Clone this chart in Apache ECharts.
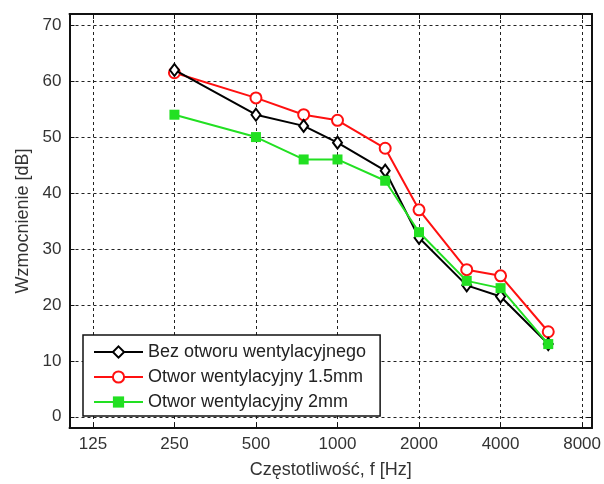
<!DOCTYPE html>
<html>
<head>
    <meta charset="UTF-8">
    <title>Wzmocnienie</title>
    <style>
        body, html {
            margin: 0;
            width: 100%;
            height: 100%;
            background: #fff;
        }
        #container {
            width: 604px;
            height: 484px;
        }
    </style>
</head>
<body>
<div id="container"></div>

<script src="https://cdn.jsdelivr.net/npm/echarts@6/dist/echarts.min.js"></script>
<script>
    // dane
    var freqs = [250, 500, 750, 1000, 1500, 2000, 3000, 4000, 6000];
    var bezOtworu = [62, 54, 52, 49, 44, 32, 23.5, 21.5, 13];
    var otwor15 = [61.5, 57, 54, 53, 48, 37, 26.3, 25.2, 15.2];
    var otwor2 = [54, 50, 46, 46, 42.2, 33, 24.3, 23, 13];
    var xTickLabels = ['125', '250', '500', '1000', '2000', '4000', '8000'];
    var legendNames = ['Bez otworu wentylacyjnego', 'Otwor wentylacyjny 1.5mm', 'Otwor wentylacyjny 2mm'];

    var FONT = 'Liberation Sans, Arial, sans-serif';

    // os logarytmiczna: oktawy od 125 Hz
    function toOct(f) {
        return Math.log(f / 125) / Math.LN2;
    }

    function pairs(vals) {
        var out = [];
        for (var i = 0; i < freqs.length; i++) {
            out.push([toOct(freqs[i]), vals[i]]);
        }
        return out;
    }

    var xMin = -0.287, xMax = 6.122;
    var yMin = -2, yMax = 72;

    var chart = echarts.init(document.getElementById('container'));

    var gridLine = {show: true, lineStyle: {color: '#222', width: 1, type: [3, 3]}};
    var border = {show: true, onZero: false, lineStyle: {color: '#111', width: 2}};

    var option = {
        animation: false,
        backgroundColor: '#fff',
        grid: {left: 69.5, right: 9, top: 14, bottom: 52},
        legend: {
            orient: 'vertical',
            left: 83,
            top: 335,
            data: legendNames,
            backgroundColor: '#fff',
            borderColor: '#111',
            borderWidth: 1.5,
            borderRadius: 0,
            padding: [8, 14, 5, 10],
            itemWidth: 49,
            itemHeight: 14,
            itemGap: 7,
            textStyle: {fontFamily: FONT, fontSize: 18, color: '#222'}
        },
        xAxis: [{
            type: 'value',
            min: xMin,
            max: xMax,
            minInterval: 1,
            maxInterval: 1,
            position: 'bottom',
            name: 'Częstotliwość, f [Hz]',
            nameLocation: 'middle',
            nameGap: 33,
            nameTextStyle: {fontFamily: FONT, fontSize: 18, color: '#333'},
            axisLine: border,
            axisTick: {show: true, inside: true, length: 5, lineStyle: {color: '#111'}},
            axisLabel: {
                showMinLabel: false,
                showMaxLabel: false,
                margin: 8,
                fontFamily: FONT,
                fontSize: 17,
                color: '#333',
                formatter: function (v) {
                    var i = Math.round(v);
                    return Math.abs(v - i) < 1e-6 ? (xTickLabels[i] || '') : '';
                }
            },
            splitLine: gridLine
        }, {
            type: 'value',
            min: xMin,
            max: xMax,
            minInterval: 1,
            maxInterval: 1,
            position: 'top',
            axisLine: border,
            axisTick: {show: true, inside: true, length: 5, lineStyle: {color: '#111'}},
            axisLabel: {show: false},
            splitLine: {show: false}
        }],
        yAxis: [{
            type: 'value',
            min: yMin,
            max: yMax,
            minInterval: 10,
            maxInterval: 10,
            position: 'left',
            name: 'Wzmocnienie [dB]',
            nameLocation: 'middle',
            nameGap: 36,
            nameTextStyle: {fontFamily: FONT, fontSize: 18, color: '#333'},
            axisLine: border,
            axisTick: {show: true, inside: true, length: 5, lineStyle: {color: '#111'}},
            axisLabel: {
                showMinLabel: false,
                showMaxLabel: false,
                margin: 8,
                fontFamily: FONT,
                fontSize: 17,
                color: '#333'
            },
            splitLine: gridLine
        }, {
            type: 'value',
            min: yMin,
            max: yMax,
            minInterval: 10,
            maxInterval: 10,
            position: 'right',
            axisLine: border,
            axisTick: {show: true, inside: true, length: 5, lineStyle: {color: '#111'}},
            axisLabel: {show: false},
            splitLine: {show: false}
        }],
        series: [{
            name: legendNames[0],
            type: 'line',
            data: pairs(bezOtworu),
            symbol: 'emptyDiamond',
            symbolSize: [9, 12],
            color: '#000',
            lineStyle: {width: 2, color: '#000'},
            itemStyle: {color: '#000', borderWidth: 2},
            z: 3
        }, {
            name: legendNames[1],
            type: 'line',
            data: pairs(otwor15),
            symbol: 'emptyCircle',
            symbolSize: 11,
            color: '#ff1010',
            lineStyle: {width: 2, color: '#ff1010'},
            itemStyle: {color: '#ff1010', borderWidth: 2},
            z: 2
        }, {
            name: legendNames[2],
            type: 'line',
            data: pairs(otwor2),
            symbol: 'rect',
            symbolSize: 10,
            color: '#22e022',
            lineStyle: {width: 2, color: '#22e022'},
            itemStyle: {color: '#22e022'},
            z: 4
        }]
    };

    chart.setOption(option);
</script>
</body>
</html>
